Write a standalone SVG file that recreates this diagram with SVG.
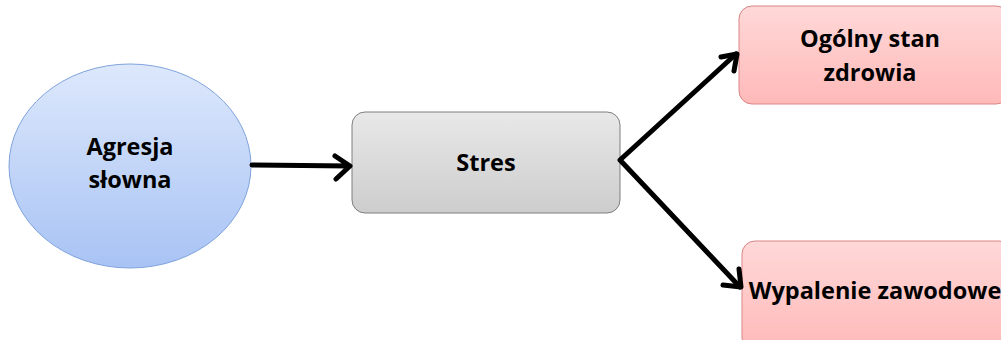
<svg xmlns="http://www.w3.org/2000/svg" width="1001" height="340" viewBox="0 0 1001 340">
<defs>
<linearGradient id="gBlue" x1="0" y1="0" x2="0" y2="1"><stop offset="0" stop-color="#dde8fc"/><stop offset="1" stop-color="#a8c3f4"/></linearGradient>
<linearGradient id="gGray" x1="0" y1="0" x2="0" y2="1"><stop offset="0" stop-color="#e8e8e8"/><stop offset="1" stop-color="#cdcdcd"/></linearGradient>
<linearGradient id="gPink" x1="0" y1="0" x2="0" y2="1"><stop offset="0" stop-color="#ffd8d8"/><stop offset="1" stop-color="#ffb9b9"/></linearGradient>
</defs>
<style>
.t{font-family:"Open Sans","Liberation Sans",sans-serif;font-weight:bold;font-size:23.5px;fill:#000;text-anchor:middle}
.c{fill:none;stroke:#000;stroke-width:5;stroke-linecap:round;stroke-linejoin:round}
</style>
<g id="agresja">
<ellipse cx="130" cy="166" rx="121" ry="102" fill="url(#gBlue)" stroke="#7fa3dd" stroke-width="1"/>
<text class="t" x="130" y="155">Agresja</text>
<text class="t" x="130" y="188">słowna</text>
</g>
<g id="stres">
<rect x="352" y="112" width="268" height="101" rx="13" fill="url(#gGray)" stroke="#7f7f7f" stroke-width="1"/>
<text class="t" x="486" y="171">Stres</text>
</g>
<g id="ogolny">
<rect x="739" y="6" width="270" height="98" rx="13" fill="url(#gPink)" stroke="#d98585" stroke-width="1"/>
<text class="t" x="870" y="47">Ogólny stan</text>
<text class="t" x="870" y="81">zdrowia</text>
</g>
<g id="wypalenie">
<rect x="742" y="241" width="270" height="110" rx="13" fill="url(#gPink)" stroke="#d98585" stroke-width="1"/>
<text class="t" x="875" y="299">Wypalenie zawodowe</text>
</g>
<g id="connectors">
<path class="c" d="M252,165 L350,166 M335,156 L350,166 L336,179"/>
<path class="c" d="M736,54 L620,160 L740,287"/>
<path class="c" d="M721,57 L737,54 L734,71"/>
<path class="c" d="M723,285 L741,287 L739,269"/>
</g>
</svg>
